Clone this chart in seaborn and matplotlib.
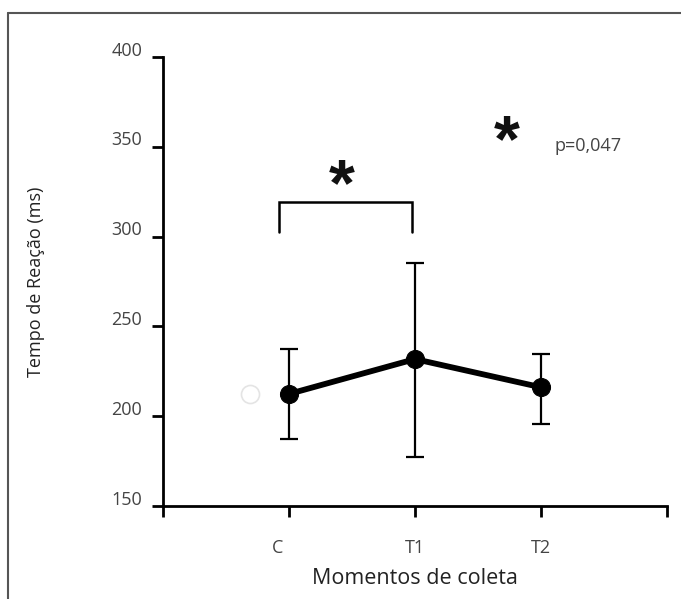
import matplotlib
matplotlib.use("Agg")
import matplotlib.pyplot as plt
import matplotlib.lines as mlines
from matplotlib.transforms import ScaledTranslation
import pandas as pd
import seaborn as sns

categories = ["C", "T1", "T2"]
means = [212.4, 231.8, 216.1]
lower = [187.3, 177.5, 195.8]
upper = [237.2, 285.3, 234.5]
y_ticks = [150, 200, 250, 300, 350, 400]
p_label = "p=0,047"

sns.set_theme(style="white")
plt.rcParams["font.family"] = ["Open Sans", "DejaVu Sans"]

df = pd.DataFrame({"momento": categories, "tempo": means})
df["pos"] = range(1, len(categories) + 1)
err_lo = [m - lo for m, lo in zip(means, lower)]
err_hi = [hi - m for m, hi in zip(means, upper)]

fig = plt.figure(figsize=(6.81, 5.99), dpi=100)
ax = fig.add_axes([163 / 681, 1 - 506 / 599, 504 / 681, 449 / 599])

ax.errorbar(df["pos"], df["tempo"], yerr=[err_lo, err_hi], fmt="none",
            ecolor="black", elinewidth=1.6, capsize=6.5, capthick=1.6, zorder=2)
sns.lineplot(data=df, x="pos", y="tempo", color="black", linewidth=4.2,
             marker="o", markersize=13, markeredgecolor="black", ax=ax, zorder=3)

# faint stray circle seen in the original
ax.plot([0.69], [212.4], marker="o", markersize=13, markerfacecolor="none",
        markeredgecolor="#e4e4e4", markeredgewidth=1.2, zorder=1)

# significance bracket
ax.plot([0.92, 0.92, 1.98, 1.98], [302.5, 319.4, 319.4, 302.5],
        color="black", linewidth=1.8, solid_joinstyle="miter")
ax.text(1.42, 327, "*", fontsize=48, fontweight="bold", ha="center",
        va="center", family="Liberation Sans", color="#111")
ax.text(2.73, 351.5, "*", fontsize=48, fontweight="bold", ha="center",
        va="center", family="Liberation Sans", color="#111")
ax.text(3.11, 350.5, p_label, fontsize=13, ha="left", va="center", color="#444")

ax.set_xlim(0, 4)
ax.set_ylim(150, 400)
ax.set_xticks([0, 1, 2, 3, 4])
ax.set_xticklabels([""] + categories + [""])
ax.set_yticks(y_ticks)
ax.set_yticklabels([str(v) for v in y_ticks])
ax.tick_params(axis="both", direction="out", length=8, width=2, color="black",
               labelsize=13, labelcolor="#444", pad=7, bottom=True, left=True)
ax.tick_params(axis="x", pad=16)
for side in ["top", "right"]:
    ax.spines[side].set_visible(False)
for side in ["left", "bottom"]:
    ax.spines[side].set_color("black")
    ax.spines[side].set_linewidth(2)

# the original's y labels sit a little above their ticks, and "C" left of its tick
for lab in ax.get_yticklabels():
    lab.set_transform(lab.get_transform() + ScaledTranslation(0, 6 / 72, fig.dpi_scale_trans))
c_lab = ax.get_xticklabels()[1]
c_lab.set_transform(c_lab.get_transform() + ScaledTranslation(-8 / 72, 0, fig.dpi_scale_trans))

ax.set_xlabel("Momentos de coleta", fontsize=15.5, color="#222", labelpad=8)
ax.set_ylabel("Tempo de Reação (ms)", fontsize=13, color="#222", labelpad=48)

# outer frame (left and top only)
fig.add_artist(mlines.Line2D([8 / 681, 8 / 681], [0, 1 - 13 / 599],
                             color="#555", linewidth=1.5, transform=fig.transFigure))
fig.add_artist(mlines.Line2D([8 / 681, 1], [1 - 13 / 599, 1 - 13 / 599],
                             color="#555", linewidth=1.5, transform=fig.transFigure))

fig.savefig("out.png", dpi=100)
